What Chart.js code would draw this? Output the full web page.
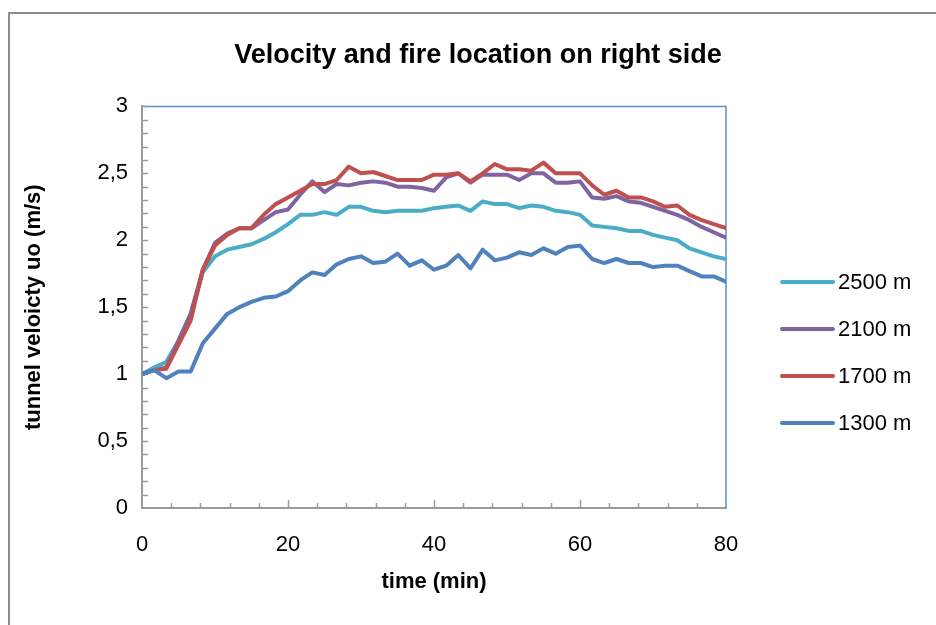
<!DOCTYPE html>
<html>
<head>
<meta charset="utf-8">
<script src="https://cdn.jsdelivr.net/npm/chart.js@4.4.1/dist/chart.umd.min.js"></script>
<style>
  body { margin: 0; background: #fff; overflow: hidden; }
  #wrap { position: relative; width: 936px; height: 625px; overflow: hidden; }
  #frame { position: absolute; left: 8px; top: 12px; width: 1000px; height: 1000px;
           border-left: 2px solid #8c8c8c; border-top: 2px solid #8c8c8c; }
  #chart { position: absolute; left: 0; top: 0; }
  #legend { position: absolute; left: 780px; top: 0; font-family: "Liberation Sans", Arial, sans-serif;
            font-size: 22px; color: #000; }
  .item { position: absolute; left: 0; height: 26px; display: flex; align-items: center; white-space: nowrap; }
  .swatch { width: 55px; height: 4px; border-radius: 2px; margin-right: 3px; }
</style>
</head>
<body>
<div id="wrap">
  <div id="frame"></div>
  <canvas id="chart" width="936" height="625"></canvas>
  <div id="legend"></div>
</div>
<script>
// time in minutes (one reading every 100 s)
const times = [0, 1.67, 3.33, 5, 6.67, 8.33, 10, 11.67, 13.33, 15, 16.67, 18.33, 20, 21.67, 23.33, 25,
  26.67, 28.33, 30, 31.67, 33.33, 35, 36.67, 38.33, 40, 41.67, 43.33, 45, 46.67, 48.33, 50, 51.67,
  53.33, 55, 56.67, 58.33, 60, 61.67, 63.33, 65, 66.67, 68.33, 70, 71.67, 73.33, 75, 76.67, 78.33, 80];

const vel2500 = [1.00, 1.05, 1.09, 1.25, 1.45, 1.76, 1.88, 1.93, 1.95, 1.97, 2.01, 2.06, 2.12, 2.19, 2.19, 2.21,
  2.19, 2.25, 2.25, 2.22, 2.21, 2.22, 2.22, 2.22, 2.24, 2.25, 2.26, 2.22, 2.29, 2.27, 2.27, 2.24,
  2.26, 2.25, 2.22, 2.21, 2.19, 2.11, 2.10, 2.09, 2.07, 2.07, 2.04, 2.02, 2.00, 1.94, 1.91, 1.88, 1.86];

const vel2100 = [1.00, 1.03, 1.05, 1.25, 1.45, 1.78, 1.98, 2.05, 2.09, 2.09, 2.15, 2.21, 2.23, 2.34, 2.44, 2.36,
  2.42, 2.41, 2.43, 2.44, 2.43, 2.40, 2.40, 2.39, 2.37, 2.47, 2.50, 2.43, 2.49, 2.49, 2.49, 2.45,
  2.50, 2.50, 2.43, 2.43, 2.44, 2.32, 2.31, 2.33, 2.29, 2.28, 2.25, 2.22, 2.19, 2.15, 2.10, 2.06, 2.02];

const vel1700 = [1.00, 1.03, 1.04, 1.22, 1.40, 1.78, 1.96, 2.04, 2.09, 2.09, 2.19, 2.27, 2.32, 2.37, 2.42, 2.42,
  2.45, 2.55, 2.50, 2.51, 2.48, 2.45, 2.45, 2.45, 2.49, 2.49, 2.50, 2.44, 2.50, 2.57, 2.53, 2.53,
  2.52, 2.58, 2.50, 2.50, 2.50, 2.41, 2.34, 2.37, 2.32, 2.32, 2.29, 2.25, 2.26, 2.19, 2.15, 2.12, 2.09];

const vel1300 = [1.00, 1.03, 0.97, 1.02, 1.02, 1.23, 1.34, 1.45, 1.50, 1.54, 1.57, 1.58, 1.62, 1.70, 1.76, 1.74,
  1.82, 1.86, 1.88, 1.83, 1.84, 1.90, 1.81, 1.85, 1.78, 1.81, 1.89, 1.79, 1.93, 1.85, 1.87, 1.91,
  1.89, 1.94, 1.90, 1.95, 1.96, 1.86, 1.83, 1.86, 1.83, 1.83, 1.80, 1.81, 1.81, 1.77, 1.73, 1.73, 1.69];

const seriesLabels = ["2500 m", "2100 m", "1700 m", "1300 m"];
const seriesValues = [vel2500, vel2100, vel1700, vel1300];
const seriesColors = ["#4bacc6", "#8064a2", "#c0504d", "#4f81bd"];

const chartTitle = "Velocity and fire location on right side";
const xTitle = "time (min)";
const yTitle = "tunnel veloicty uo (m/s)";

const FONT = "'Liberation Sans', Arial, sans-serif";
const axisGray = "#9a9a9a";
const frameBlue = "#5a8ed0";

// inside tick marks + blue top/right frame of the plot area
const plotFrame = {
  id: "plotFrame",
  beforeDatasetsDraw(chart) {
    const { ctx, chartArea: a, scales } = chart;
    ctx.save();
    ctx.strokeStyle = frameBlue;
    ctx.lineWidth = 1.5;
    ctx.beginPath();
    ctx.moveTo(a.left, a.top);
    ctx.lineTo(a.right, a.top);
    ctx.lineTo(a.right, a.bottom);
    ctx.stroke();

    ctx.strokeStyle = axisGray;
    ctx.lineWidth = 1.5;
    ctx.beginPath();
    for (let i = 1; i <= 30; i++) {
      const y = Math.round(scales.y.getPixelForValue(i / 10)) + 0.5;
      ctx.moveTo(a.left, y);
      ctx.lineTo(a.left + 6, y);
    }
    for (let m = 4; m < 80; m += 4) {
      const x = Math.round(scales.x.getPixelForValue(m)) + 0.5;
      ctx.moveTo(x, a.bottom);
      ctx.lineTo(x, a.bottom - (m % 20 === 0 ? 8 : 5));
    }
    ctx.stroke();
    ctx.restore();
  }
};

const ctx = document.getElementById("chart").getContext("2d");

new Chart(ctx, {
  type: "line",
  data: {
    datasets: seriesLabels.map((label, k) => ({
      label: label,
      data: times.map((t, i) => ({ x: t, y: seriesValues[k][i] })),
      borderColor: seriesColors[k],
      backgroundColor: seriesColors[k],
      borderWidth: 4,
      pointRadius: 0,
      tension: 0,
      borderJoinStyle: "round",
      borderCapStyle: "round",
      order: seriesLabels.length - k
    }))
  },
  options: {
    responsive: false,
    animation: false,
    layout: { padding: { left: 20, right: 0, top: 0, bottom: 0 } },
    plugins: {
      legend: { display: false },
      tooltip: { enabled: false },
      title: {
        display: true,
        text: chartTitle,
        color: "#000",
        font: { family: FONT, size: 27, weight: "bold" },
        padding: { top: 39, bottom: 35 }
      }
    },
    scales: {
      x: {
        type: "linear",
        position: "bottom",
        min: 0,
        max: 80,
        ticks: { stepSize: 20, padding: 24, color: "#000", font: { family: FONT, size: 22 } },
        grid: { display: false, drawTicks: false },
        border: { display: true, color: axisGray, width: 2 },
        title: {
          display: true,
          text: xTitle,
          color: "#000",
          font: { family: FONT, size: 22, weight: "bold" },
          padding: { top: 0, bottom: 30 }
        },
        afterFit: (s) => { s.height = 117; }
      },
      y: {
        type: "linear",
        position: "left",
        min: 0,
        max: 3,
        ticks: {
          stepSize: 0.5,
          padding: 14,
          color: "#000",
          font: { family: FONT, size: 22 },
          callback: (v) => String(v).replace(".", ",")
        },
        grid: { display: false, drawTicks: false },
        border: { display: true, color: axisGray, width: 2 },
        title: {
          display: true,
          text: yTitle,
          color: "#000",
          font: { family: FONT, size: 22, weight: "bold" },
          padding: { top: 1, bottom: 0 }
        },
        afterFit: (s) => { s.width = 122; }
      },
      // empty right-hand box that holds the space used by the legend
      yR: {
        type: "linear",
        position: "right",
        display: true,
        ticks: { display: false },
        grid: { display: false, drawTicks: false },
        border: { display: false },
        afterFit: (s) => { s.width = 210; }
      }
    }
  },
  plugins: [plotFrame]
});

const legendBox = document.getElementById("legend");
seriesLabels.forEach((label, k) => {
  const item = document.createElement("div");
  item.className = "item";
  item.style.top = (282 + k * 47 - 13) + "px";
  item.innerHTML = `<span class="swatch" style="background:${seriesColors[k]}"></span><span>${label}</span>`;
  legendBox.appendChild(item);
});
</script>
</body>
</html>
